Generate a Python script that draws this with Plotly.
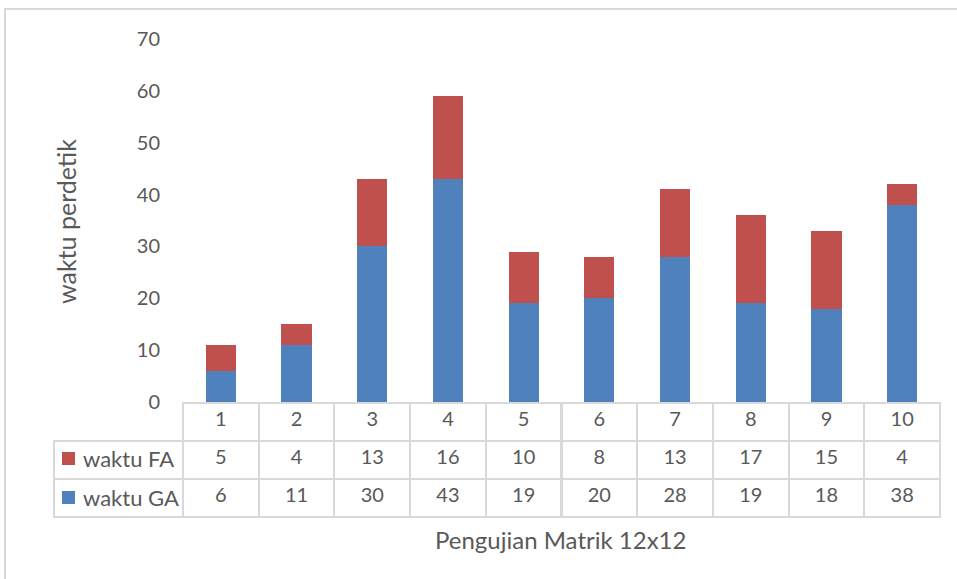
import plotly.graph_objects as go

categories = ["1", "2", "3", "4", "5", "6", "7", "8", "9", "10"]
waktu_ga = [6, 11, 30, 43, 19, 20, 28, 19, 18, 38]
waktu_fa = [5, 4, 13, 16, 10, 8, 13, 17, 15, 4]
series_names = ["waktu GA", "waktu FA"]
y_ticks = [0, 10, 20, 30, 40, 50, 60, 70]

BLUE = "#4F81BD"
RED = "#C0504D"
TXT = "#595959"
GRID = "#D9D9D9"
FONT = "Lato"
W, H = 957, 579

def px_x(v):
    return v / W

def px_y(v):
    return (H - v) / H

fig = go.Figure()
fig.add_trace(go.Bar(x=categories, y=waktu_ga, name=series_names[0],
                     marker=dict(color=BLUE, line=dict(width=0)), width=0.4))
fig.add_trace(go.Bar(x=categories, y=waktu_fa, name=series_names[1],
                     marker=dict(color=RED, line=dict(width=0)), width=0.4))

col_values = [["", "", ""]]
for c, fa, ga in zip(categories, waktu_fa, waktu_ga):
    col_values.append([c, str(fa), str(ga)])

CLEAR = "rgba(0,0,0,0)"
line_colors = [[CLEAR, GRID, GRID]] + [[GRID, GRID, GRID] for _ in categories]
fill_colors = [[CLEAR, "white", "white"]] + [["white"] * 3 for _ in categories]

plot_left, plot_right = 183, 940
cat_w = (plot_right - plot_left) / len(categories)
fig.add_trace(go.Table(
    domain=dict(x=[px_x(54), px_x(plot_right)], y=[px_y(522), px_y(402)]),
    columnwidth=[plot_left - 54] + [cat_w] * len(categories),
    header=dict(values=[""] * (len(categories) + 1), height=1, font=dict(size=1),
                line=dict(width=0, color=CLEAR), fill=dict(color=CLEAR)),
    cells=dict(values=col_values, height=38, align="center",
               line=dict(color=line_colors, width=2),
               fill=dict(color=fill_colors),
               font=dict(family=FONT, size=20, color=TXT)),
))

legend_rows = [(series_names[1], RED, 458), (series_names[0], BLUE, 497)]
anns = [
    dict(text="waktu perdetik", x=px_x(66), y=px_y(222), xref="paper", yref="paper",
         xanchor="center", yanchor="middle",
         textangle=-90, showarrow=False, font=dict(family=FONT, size=25, color=TXT)),
    dict(text="Pengujian Matrik 12x12", x=px_x(560), y=px_y(539), xref="paper", yref="paper",
         xanchor="center", yanchor="middle",
         showarrow=False, font=dict(family=FONT, size=24, color=TXT)),
]
for name, color, yc in legend_rows:
    anns.append(dict(text=" ", x=px_x(62), y=px_y(yc), xref="paper", yref="paper",
                     xanchor="left", yanchor="middle", width=13, height=13,
                     bgcolor=color, borderpad=0, borderwidth=0, showarrow=False,
                     font=dict(size=4)))
    anns.append(dict(text=name, x=px_x(81), y=px_y(yc), xref="paper", yref="paper",
                     xanchor="left", yanchor="middle",
                     showarrow=False, font=dict(family=FONT, size=22, color=TXT)))

fig.update_layout(
    width=W, height=H,
    autosize=False,
    barmode="stack",
    showlegend=False,
    hovermode=False,
    plot_bgcolor="white", paper_bgcolor="white",
    margin=dict(l=0, r=0, t=0, b=0, pad=0, autoexpand=False),
    font=dict(family=FONT, size=20, color=TXT),
    xaxis=dict(domain=[px_x(plot_left), px_x(plot_right)], showticklabels=False,
               showline=False, showgrid=False, zeroline=False, ticks="", automargin=False,
               range=[-0.5, len(categories) - 0.5]),
    yaxis=dict(domain=[px_y(402), px_y(39)], range=[0, 70], tickvals=y_ticks,
               showline=False, showgrid=False, zeroline=False, ticks="", automargin=False,
               ticklabelstandoff=22,
               tickfont=dict(family=FONT, size=20, color=TXT)),
    annotations=anns,
    shapes=[
        dict(type="rect", xref="paper", yref="paper", x0=px_x(5), x1=1.05, y0=-0.05, y1=px_y(9),
             line=dict(color=GRID, width=2), fillcolor=CLEAR, layer="below"),
    ],
)

fig.write_html("out.html", config={"displayModeBar": False},
               post_script="document.body.style.margin='0';document.body.style.overflow='hidden';")
